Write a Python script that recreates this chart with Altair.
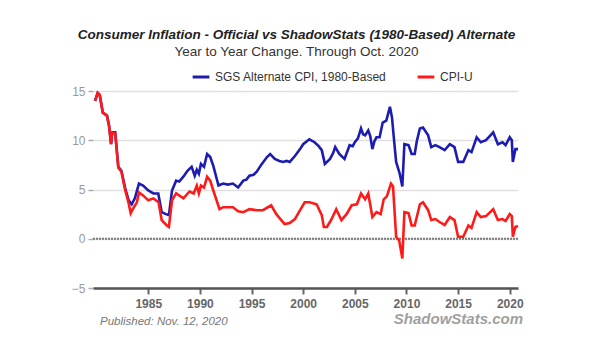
import altair as alt
import pandas as pd

sgs_years = [1979.85, 1980.1, 1980.3, 1980.6, 1981.0, 1981.2, 1981.4, 1981.5, 1981.8, 1982.1,
             1982.4, 1982.75, 1983.1, 1983.4, 1983.7, 1984.1, 1984.5, 1985.0, 1985.5, 1985.97,
             1986.3, 1986.7, 1987.0, 1987.3, 1987.7, 1988.0, 1988.4, 1988.8, 1989.2, 1989.5,
             1989.7, 1989.9, 1990.1, 1990.4, 1990.7, 1991.0, 1991.3, 1991.8, 1992.25, 1992.7,
             1993.2, 1993.7, 1994.2, 1994.5, 1994.8, 1995.2, 1995.5, 1996.0, 1996.5, 1996.8,
             1997.25, 1997.7, 1998.05, 1998.4, 1998.7, 1999.2, 1999.7, 2000.0, 2000.6, 2001.1,
             2001.5, 2001.8, 2002.1, 2002.6, 2002.9, 2003.1, 2003.5, 2004.0, 2004.5, 2004.8,
             2005.0, 2005.3, 2005.6, 2005.8, 2006.0, 2006.3, 2006.5, 2006.7, 2006.9, 2007.1,
             2007.4, 2007.7, 2008.05, 2008.4, 2008.6, 2008.8, 2009.0, 2009.35, 2009.6, 2009.8,
             2010.2, 2010.5, 2010.8, 2011.0, 2011.3, 2011.6, 2012.1, 2012.4, 2012.8, 2013.2,
             2013.7, 2014.2, 2014.65, 2015.0, 2015.5, 2016.0, 2016.3, 2016.8, 2017.2, 2017.7,
             2018.4, 2018.85, 2019.3, 2019.6, 2020.0, 2020.2, 2020.3, 2020.55, 2020.8]
sgs_values = [14.0, 14.8, 14.6, 12.8, 12.5, 11.5, 9.6, 10.8, 10.8, 7.3,
              6.9, 5.2, 3.9, 3.5, 4.1, 5.6, 5.4, 4.9, 4.6, 4.6,
              2.7, 2.5, 2.4, 4.9, 5.9, 5.8, 6.3, 6.9, 7.3, 6.4,
              7.0, 6.6, 7.6, 7.3, 8.6, 8.3, 7.4, 5.4, 5.6, 5.5,
              5.6, 5.2, 5.9, 6.0, 6.4, 6.5, 6.8, 7.6, 8.3, 8.6,
              8.1, 7.9, 7.8, 7.9, 7.8, 8.4, 9.1, 9.6, 10.1, 9.8,
              9.4, 9.0, 7.6, 8.1, 8.7, 9.3, 8.6, 8.1, 9.5, 9.4,
              9.8, 10.2, 11.2, 10.6, 10.5, 11.0, 10.4, 9.1, 9.9, 10.3,
              10.3, 11.8, 12.0, 13.4, 12.3, 10.0, 7.8, 6.6, 5.3, 9.6,
              9.5, 8.6, 8.6, 9.9, 11.2, 11.3, 10.5, 9.3, 9.5, 9.3,
              9.0, 9.6, 9.3, 7.8, 7.8, 9.0, 8.8, 10.3, 9.8, 10.0,
              10.8, 9.6, 9.8, 9.5, 10.3, 10.0, 7.8, 9.1, 9.1]

cpi_years = [1979.85, 1980.1, 1980.3, 1980.6, 1981.0, 1981.2, 1981.4, 1981.5, 1981.8, 1982.1,
             1982.4, 1982.75, 1983.1, 1983.3, 1983.5, 1983.9, 1984.1, 1984.5, 1985.0, 1985.5,
             1986.0, 1986.3, 1986.8, 1987.0, 1987.3, 1987.7, 1988.4, 1989.0, 1989.4, 1989.7,
             1989.9, 1990.1, 1990.4, 1990.7, 1991.0, 1991.3, 1991.9, 1992.25, 1993.2, 1993.7,
             1994.2, 1994.8, 1995.5, 1996.1, 1996.9, 1997.4, 1998.2, 1998.7, 1999.2, 1999.7,
             2000.15, 2000.6, 2001.3, 2001.8, 2002.0, 2002.3, 2002.7, 2003.2, 2003.7, 2004.2,
             2004.7, 2005.2, 2005.6, 2006.0, 2006.3, 2006.7, 2007.1, 2007.5, 2007.8, 2008.1,
             2008.5, 2008.7, 2009.0, 2009.3, 2009.6, 2009.8, 2010.2, 2010.5, 2010.8, 2011.3,
             2011.6, 2012.1, 2012.4, 2012.8, 2013.2, 2013.7, 2014.2, 2014.65, 2015.0, 2015.5,
             2016.0, 2016.3, 2016.8, 2017.2, 2017.7, 2018.4, 2018.85, 2019.3, 2019.6, 2020.0,
             2020.2, 2020.3, 2020.55, 2020.8]
cpi_values = [14.0, 14.8, 14.6, 12.8, 12.5, 11.5, 9.6, 10.8, 10.7, 7.2,
              6.8, 5.0, 3.6, 2.6, 3.0, 3.7, 4.7, 4.4, 3.9, 4.1,
              3.7, 1.9, 1.35, 1.2, 3.9, 4.6, 4.1, 4.8, 4.6, 5.4,
              4.6, 5.4, 5.2, 6.3, 5.9, 4.9, 3.0, 3.2, 3.2, 2.8,
              2.7, 3.0, 2.9, 2.9, 3.4, 2.5, 1.5, 1.6, 2.0, 2.9,
              3.7, 3.7, 3.5, 2.4, 1.2, 1.2, 1.9, 3.0, 1.9, 2.5,
              3.4, 3.5, 4.6, 4.0, 4.6, 2.2, 2.7, 2.5, 4.0, 4.3,
              5.6, 5.3, 0.2, -0.2, -2.0, 2.7, 2.6, 1.35, 1.35, 3.5,
              3.7, 2.9, 1.9, 2.0, 1.7, 1.4, 2.2, 1.9, 0.2, 0.2,
              1.35, 1.1, 2.7, 2.2, 2.3, 3.0, 1.9, 2.0, 1.8, 2.5,
              2.3, 0.2, 1.2, 1.3]

series_names = ["SGS Alternate CPI, 1980-Based", "CPI-U"]
series_colors = ["#1c1cb0", "#ff1a1a"]
x_ticks = [1985, 1990, 1995, 2000, 2005, 2010, 2015, 2020]
y_ticks = [-5, 0, 5, 10, 15]

df = pd.concat([
    pd.DataFrame({"year": sgs_years, "value": sgs_values, "series": series_names[0], "order": 0}),
    pd.DataFrame({"year": cpi_years, "value": cpi_values, "series": series_names[1], "order": 1}),
])

FONT = "Liberation Sans"

xscale = alt.Scale(domain=[1979.65, 2020.8], nice=False, zero=False)
yscale = alt.Scale(domain=[-5, 15], nice=False)

lines = alt.Chart(df).mark_line(strokeWidth=2.6, interpolate="linear").encode(
    x=alt.X("year:Q", scale=xscale,
            axis=alt.Axis(values=x_ticks, format="d", title=None, grid=False,
                          labelFont=FONT, labelFontSize=12, labelFontWeight="bold",
                          labelColor="#666666", tickColor="#666666", tickSize=6, tickWidth=2,
                          domainColor="#555555", domainWidth=2.5, labelPadding=4)),
    y=alt.Y("value:Q", scale=yscale,
            axis=alt.Axis(values=y_ticks, title=None, domain=False, grid=True,
                          gridColor="#e0e0e0", gridWidth=1.5,
                          labelFont=FONT, labelFontSize=12, labelColor="#999999",
                          tickColor="#aaaaaa", tickSize=5, tickWidth=1.5, labelPadding=3)),
    color=alt.Color("series:N", sort=series_names,
                    scale=alt.Scale(domain=series_names, range=series_colors),
                    legend=alt.Legend(title=None, orient="none", legendX=98, legendY=-24,
                                      direction="horizontal", symbolType="stroke",
                                      symbolStrokeWidth=3, symbolSize=280,
                                      labelFont=FONT, labelFontSize=12, labelColor="#333333",
                                      labelLimit=300, columnPadding=24, labelOffset=4)),
    detail="series:N",
    order="order:Q",
)

zero = alt.Chart(pd.DataFrame({"v": [0]})).mark_rule(
    color="#777777", strokeWidth=2.2, strokeDash=[2, 1]).encode(y=alt.Y("v:Q", scale=yscale))

foot = pd.DataFrame({"t": ["Published: Nov. 12, 2020"]})
pub = alt.Chart(foot).mark_text(align="left", baseline="middle", font=FONT, fontSize=11.5,
                                fontStyle="italic", color="#777777").encode(
    x=alt.value(7), y=alt.value(231), text="t:N")
ss = alt.Chart(pd.DataFrame({"t": ["ShadowStats.com"]})).mark_text(
    align="right", baseline="middle", font=FONT, fontSize=15, fontStyle="italic",
    fontWeight="bold", color="#a0a0a0").encode(x=alt.value(430), y=alt.value(228), text="t:N")

chart = alt.layer(zero, lines, pub, ss).properties(
    width=425, height=197,
    autosize=alt.AutoSizeParams(type="none"),
    padding={"left": 85, "top": 83, "right": 60, "bottom": 50},
    title=alt.TitleParams(
        text="Consumer Inflation - Official vs ShadowStats (1980-Based) Alternate",
        subtitle="Year to Year Change. Through Oct. 2020",
        anchor="middle", frame="group", dx=-9, offset=9,
        font=FONT, fontSize=13.5, fontStyle="italic", fontWeight="bold", color="#222222",
        subtitleFont=FONT, subtitleFontSize=13.5, subtitleColor="#333333", subtitlePadding=3),
).configure_view(stroke=None)

chart.save("out.html", embed_options={"renderer": "svg", "actions": False})
